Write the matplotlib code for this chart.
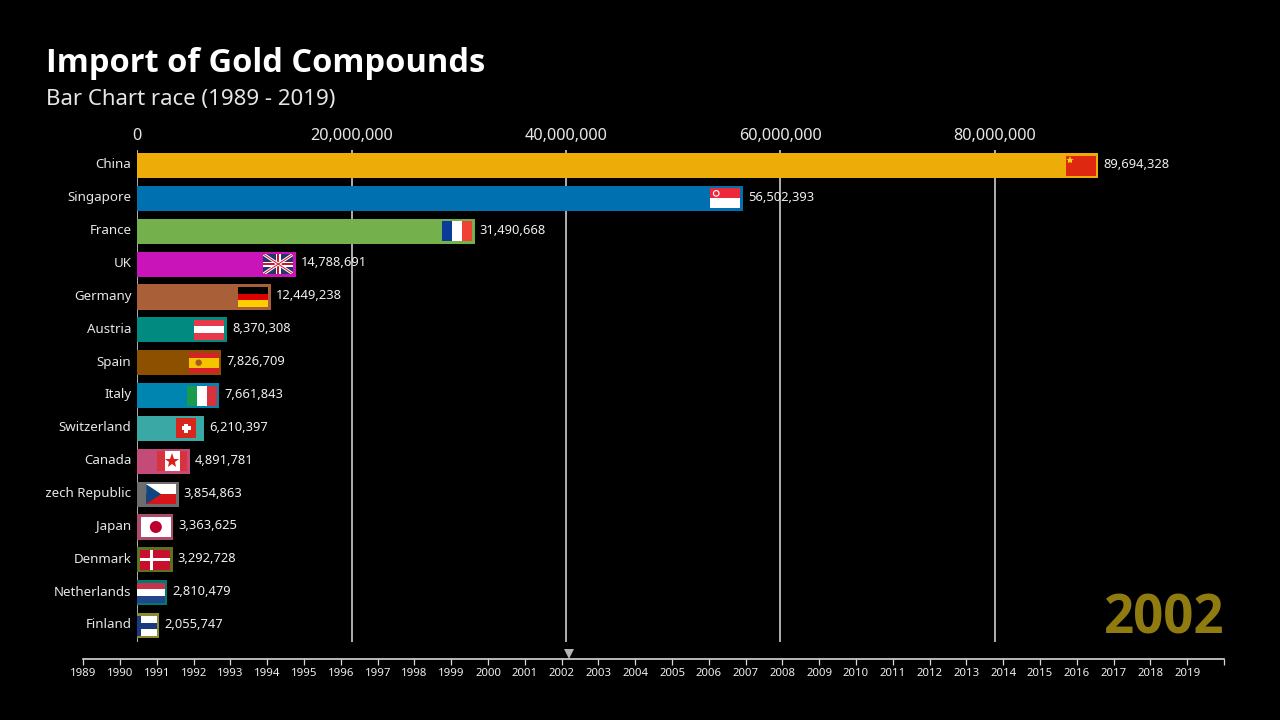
import matplotlib
matplotlib.use('Agg')
import matplotlib.pyplot as plt
from matplotlib.patches import Rectangle, Polygon, Circle
from matplotlib.transforms import Bbox, ScaledTranslation

plt.rcParams['font.family'] = ['Noto Sans', 'DejaVu Sans']

countries = ['China', 'Singapore', 'France', 'UK', 'Germany', 'Austria', 'Spain', 'Italy',
             'Switzerland', 'Canada', 'Czech Republic', 'Japan', 'Denmark', 'Netherlands', 'Finland']
values = [89694328, 56502393, 31490668, 14788691, 12449238, 8370308, 7826709, 7661843,
          6210397, 4891781, 3854863, 3363625, 3292728, 2810479, 2055747]
bar_colors = ['#edac07', '#0070b0', '#74b04c', '#c814b8', '#a95f37', '#008a80', '#8c5000', '#0085b0',
              '#3aa8a4', '#c44a78', '#6d6d70', '#b04a6c', '#5f7020', '#007a70', '#8a8a30']
value_ticks = [0, 20000000, 40000000, 60000000, 80000000]
years = list(range(1989, 2020))
current_year = 2002
current_time = 2002.19

W, H = 1280, 720
LEFT = 137.3


def px_axes(fig, x0, y0, x1, y1, **kw):
    return fig.add_axes([x0 / W, 1 - y1 / H, (x1 - x0) / W, (y1 - y0) / H], **kw)


def stripes_h(ax, cols):
    h = 20 / len(cols)
    for i, c in enumerate(cols):
        ax.add_patch(Rectangle((0, 20 - (i + 1) * h), 30, h, color=c, lw=0))


def stripes_v(ax, cols):
    w = 30 / len(cols)
    for i, c in enumerate(cols):
        ax.add_patch(Rectangle((i * w, 0), w, 20, color=c, lw=0))


def draw_flag(ax, name):
    if name == 'China':
        stripes_h(ax, ['#de2910'])
        ax.plot([4.5], [15.5], marker='*', ms=6, color='#ffde00', mew=0)
    elif name == 'Singapore':
        stripes_h(ax, ['#ed2939', '#ffffff'])
        ax.add_patch(Circle((6, 15), 2.8, fc='none', ec='#ffffff', lw=0.8))
    elif name == 'France':
        stripes_v(ax, ['#0a3a9a', '#ffffff', '#ef4135'])
    elif name == 'UK':
        stripes_h(ax, ['#26346e'])
        ax.plot([0, 30], [0, 20], color='white', lw=2.2)
        ax.plot([0, 30], [20, 0], color='white', lw=2.2)
        ax.plot([0, 30], [0, 20], color='#cf142b', lw=0.7)
        ax.plot([0, 30], [20, 0], color='#cf142b', lw=0.7)
        ax.add_patch(Rectangle((0, 7.5), 30, 5, color='white', lw=0))
        ax.add_patch(Rectangle((12.5, 0), 5, 20, color='white', lw=0))
        ax.add_patch(Rectangle((0, 8.8), 30, 2.4, color='#cf142b', lw=0))
        ax.add_patch(Rectangle((13.8, 0), 2.4, 20, color='#cf142b', lw=0))
    elif name == 'Germany':
        stripes_h(ax, ['#000000', '#dd0000', '#ffce00'])
    elif name == 'Austria':
        stripes_h(ax, ['#e8394a', '#ffffff', '#e8394a'])
    elif name == 'Spain':
        stripes_h(ax, ['#d8202a', '#f5c400', '#f5c400', '#d8202a'])
        ax.add_patch(Circle((10, 10), 3.2, color='#a8552a', lw=0))
    elif name == 'Italy':
        stripes_v(ax, ['#1a9a4c', '#ffffff', '#d8323c'])
    elif name == 'Switzerland':
        # square flag, centred in the slot
        ax.add_patch(Rectangle((5, 0), 20, 20, color='#d8261c', lw=0))
        ax.add_patch(Rectangle((10.5, 8), 9, 4, color='white', lw=0))
        ax.add_patch(Rectangle((13, 5.5), 4, 9, color='white', lw=0))
    elif name == 'Canada':
        stripes_v(ax, ['#d8323c', '#ffffff', '#ffffff', '#d8323c'])
        ax.plot([15], [10], marker='*', ms=11, color='#d8201c', mew=0)
    elif name == 'Czech Republic':
        stripes_h(ax, ['#ffffff', '#d7141a'])
        ax.add_patch(Polygon([(0, 0), (0, 20), (15, 10)], color='#11457e', lw=0))
    elif name == 'Japan':
        stripes_h(ax, ['#ffffff'])
        ax.add_patch(Circle((15, 10), 6, color='#bc002d', lw=0))
    elif name == 'Denmark':
        stripes_h(ax, ['#c8102e'])
        ax.add_patch(Rectangle((0, 8.5), 30, 3, color='white', lw=0))
        ax.add_patch(Rectangle((10, 0), 3, 20, color='white', lw=0))
    elif name == 'Netherlands':
        stripes_h(ax, ['#c8324a', '#ffffff', '#21468b'])
    elif name == 'Finland':
        stripes_h(ax, ['#ffffff'])
        ax.add_patch(Rectangle((0, 7), 30, 6, color='#1a3a80', lw=0))
        ax.add_patch(Rectangle((8, 0), 6, 20, color='#1a3a80', lw=0))


fig = plt.figure(figsize=(12.8, 7.2), dpi=100, facecolor='black')

ax = px_axes(fig, LEFT, 150, 1208.8, 642, facecolor='black')
ax.set_xlim(0, 100000000)
ax.set_ylim(14.5, -0.472)
ax.barh(range(len(values)), values, height=0.765, color=bar_colors, zorder=2)
ax.xaxis.tick_top()
ax.set_xticks(value_ticks, [f'{v:,}' for v in value_ticks], color='#e6e6e6', fontsize=11.7)
ax.set_yticks(range(len(countries)), countries, color='#e6e6e6', fontsize=9.6)
ax.tick_params(axis='x', length=0, pad=4.5)
ax.tick_params(axis='y', length=0, pad=4.3)
ax.grid(axis='x', color='#bdbdbd', lw=1.3, zorder=1)
ax.set_axisbelow(True)
for s in ax.spines.values():
    s.set_visible(False)

# long names get cut off at the left edge of the chart
up = ScaledTranslation(0, 1.5 / 72, fig.dpi_scale_trans)
for lab in ax.get_yticklabels():
    lab.set_transform(lab.get_transform() + up)
    lab.set_clip_on(True)
    lab.set_clip_box(Bbox([[46, 0], [LEFT, H]]))

for i, v in enumerate(values):
    ax.annotate(f'{v:,}', (v, i), xytext=(3.6, 0.8), textcoords='offset points', va='center',
                color='#f0f0f0', fontsize=9.3, zorder=4)

# flags sit at the end of each bar, cut at the axis when the bar is short
for i, (name, v) in enumerate(zip(countries, values)):
    x_end, y_mid = ax.transData.transform((v, i))
    y_mid = H - y_mid
    x1 = x_end - 2.5
    x0 = x1 - 30
    start = max(x0, LEFT)
    fa = px_axes(fig, start, y_mid - 10, x1, y_mid + 10, zorder=5)
    fa.set_xlim(start - x0, 30)
    fa.set_ylim(0, 20)
    fa.axis('off')
    draw_flag(fa, name)

# year timeline
tl = px_axes(fig, 83.3, 640, 1224, 659, facecolor='none')
tl.set_xlim(1989, 2020)
tl.set_ylim(0, 1)
tl.patch.set_visible(False)
for k, s in tl.spines.items():
    s.set_visible(k == 'bottom')
tl.spines['bottom'].set_color('#d8d8d8')
tl.spines['bottom'].set_linewidth(1.2)
tl.set_yticks([])
tl.set_xticks(years + [2020], [str(y) for y in years] + [''], color='#f0f0f0', fontsize=8.2)
tl.tick_params(axis='x', length=4.5, width=0.9, color='#d8d8d8', pad=2)
tl.plot([current_time], [0.26], marker='v', ms=7.5, color='#b4b4b4', mew=0, clip_on=False)

fig.text(1224 / W, 1 - 633 / H, str(current_year), ha='right', va='baseline', color='#8f7b10',
         fontsize=38, fontfamily='Open Sans', fontweight='bold')
fig.text(46 / W, 1 - 72 / H, 'Import of Gold Compounds', color='white', fontsize=23.5,
         fontfamily='Open Sans', fontweight='bold', va='baseline')
fig.text(46 / W, 1 - 105 / H, 'Bar Chart race (1989 - 2019)', color='#e6e6e6', fontsize=16,
         va='baseline')

fig.savefig('out.png', dpi=100, facecolor='black')
